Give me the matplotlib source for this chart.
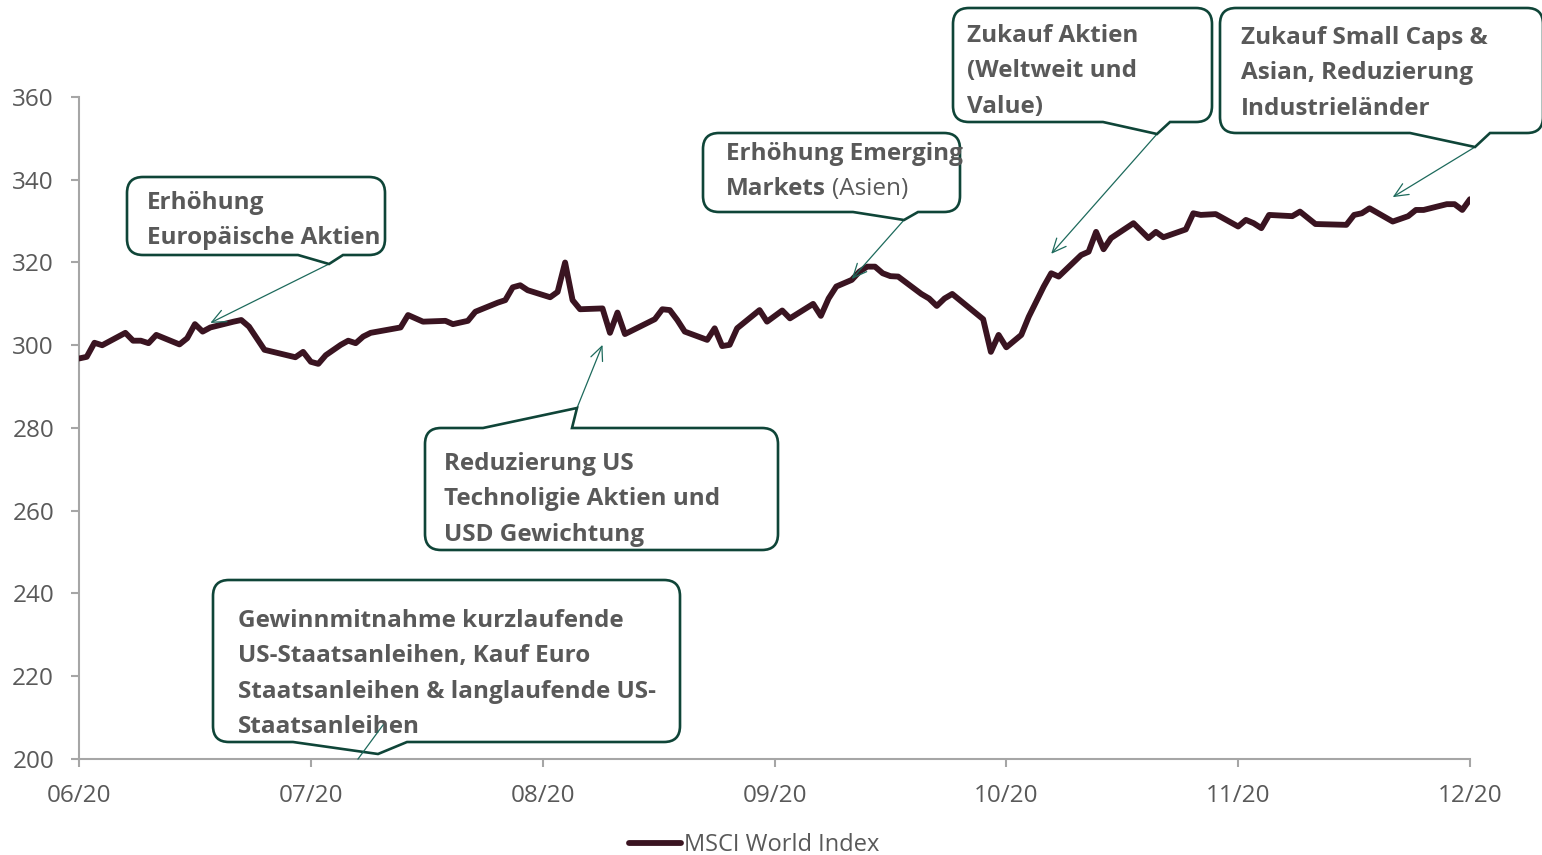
import matplotlib
matplotlib.use("Agg")
import matplotlib.pyplot as plt
from matplotlib.path import Path
from matplotlib.patches import PathPatch
from matplotlib.transforms import Affine2D
import calendar

# ---------------- data ----------------
dates = [
    "2020-06-01", "2020-06-02", "2020-06-03", "2020-06-04", "2020-06-07", "2020-06-08",
    "2020-06-09", "2020-06-10", "2020-06-11", "2020-06-14", "2020-06-15", "2020-06-16",
    "2020-06-17", "2020-06-18", "2020-06-21", "2020-06-22", "2020-06-23", "2020-06-24",
    "2020-06-25", "2020-06-27", "2020-06-29", "2020-06-30",
    "2020-07-01", "2020-07-02", "2020-07-03", "2020-07-05", "2020-07-06", "2020-07-07",
    "2020-07-08", "2020-07-09", "2020-07-13", "2020-07-14", "2020-07-16", "2020-07-19",
    "2020-07-20", "2020-07-22", "2020-07-23", "2020-07-26", "2020-07-27", "2020-07-28",
    "2020-07-29", "2020-07-30",
    "2020-08-02", "2020-08-03", "2020-08-04", "2020-08-05", "2020-08-06", "2020-08-09",
    "2020-08-10", "2020-08-11", "2020-08-12", "2020-08-16", "2020-08-17", "2020-08-18",
    "2020-08-19", "2020-08-20", "2020-08-23", "2020-08-24", "2020-08-25", "2020-08-26",
    "2020-08-27", "2020-08-30", "2020-08-31",
    "2020-09-02", "2020-09-03", "2020-09-06", "2020-09-07", "2020-09-08", "2020-09-09",
    "2020-09-11", "2020-09-12", "2020-09-13", "2020-09-14", "2020-09-15", "2020-09-16",
    "2020-09-17", "2020-09-20", "2020-09-21", "2020-09-22", "2020-09-23", "2020-09-24",
    "2020-09-28", "2020-09-29", "2020-09-30",
    "2020-10-01", "2020-10-03", "2020-10-04", "2020-10-06", "2020-10-07", "2020-10-08",
    "2020-10-11", "2020-10-12", "2020-10-13", "2020-10-14", "2020-10-15", "2020-10-18",
    "2020-10-20", "2020-10-21", "2020-10-22", "2020-10-25", "2020-10-26", "2020-10-27",
    "2020-10-29",
    "2020-11-01", "2020-11-02", "2020-11-03", "2020-11-04", "2020-11-05", "2020-11-08",
    "2020-11-09", "2020-11-11", "2020-11-15", "2020-11-16", "2020-11-17", "2020-11-18",
    "2020-11-21", "2020-11-23", "2020-11-24", "2020-11-25", "2020-11-28", "2020-11-29",
    "2020-11-30", "2020-12-01",
]
msci_world = [
    296.8, 297.2, 300.6, 300.0, 303.0, 301.1,
    301.1, 300.5, 302.5, 300.2, 301.7, 305.1,
    303.3, 304.3, 305.7, 306.1, 304.5, 301.7,
    298.9, 298.0, 297.1, 298.4,
    296.0, 295.5, 297.6, 300.1, 301.1, 300.5,
    302.1, 303.0, 304.3, 307.3, 305.7, 305.9,
    305.1, 305.9, 308.1, 310.3, 310.9, 314.0,
    314.5, 313.3,
    311.6, 312.9, 320.0, 310.9, 308.7, 308.9,
    303.0, 307.9, 302.7, 306.3, 308.7, 308.5,
    306.1, 303.3, 301.3, 304.1, 299.8, 300.1,
    304.1, 308.5, 305.7,
    308.4, 306.5, 310.0, 307.1, 311.3, 314.2,
    315.8, 317.8, 319.0, 319.0, 317.4, 316.7,
    316.6, 312.4, 311.3, 309.5, 311.3, 312.4,
    306.3, 298.4, 302.5,
    299.5, 302.5, 306.9, 314.2, 317.4, 316.6,
    321.8, 322.6, 327.4, 323.2, 325.9, 329.5,
    325.9, 327.4, 326.1, 328.0, 331.9, 331.5,
    331.7,
    328.7, 330.3, 329.5, 328.3, 331.5, 331.2,
    332.3, 329.3, 329.1, 331.5, 331.9, 333.1,
    329.9, 331.2, 332.7, 332.7, 334.1, 334.1,
    332.7, 335.3,
]
series_name = "MSCI World Index"
tick_labels = ["06/20", "07/20", "08/20", "09/20", "10/20", "11/20", "12/20"]
y_ticks = [200, 220, 240, 260, 280, 300, 320, 340, 360]

# annotation texts and targets (date, index level)
annot_texts = [
    ["Erhöhung", "Europäische Aktien"],
    ["Reduzierung US", "Technoligie Aktien und", "USD Gewichtung"],
    ["Erhöhung Emerging", "Markets"],
    ["Zukauf Aktien", "(Weltweit und", "Value)"],
    ["Zukauf Small Caps &", "Asian, Reduzierung", "Industrieländer"],
    ["Gewinnmitnahme kurzlaufende", "US-Staatsanleihen, Kauf Euro",
     "Staatsanleihen & langlaufende US-", "Staatsanleihen"],
]
annot_suffix = "(Asien)"
annot_dates = ["2020-06-18", "2020-08-09", "2020-09-11", "2020-10-07", "2020-11-21", None]
annot_levels = [305.4, 300.1, 316.0, 322.1, 335.8, None]


def month_pos(d):
    y, m, day = (int(p) for p in d.split("-"))
    ndays = calendar.monthrange(y, m)[1]
    return (m - 6) + (day - 1) / ndays


xs = [month_pos(d) for d in dates]

# ---------------- figure ----------------
W, H = 1542, 855
fig = plt.figure(figsize=(W / 100, H / 100), dpi=100)
ax = fig.add_axes([79 / W, (H - 759) / H, (1470 - 79) / W, (759 - 97) / H])

LINE_C = "#3a1421"
GRAY = "#595959"
AXC = "#a6a6a6"
BOX_EC = "#0f4538"
ARR_C = "#1d6a5c"
FONT = "Open Sans"

ax.plot(xs, msci_world, color=LINE_C, lw=4.2, solid_joinstyle="round",
        solid_capstyle="round", label=series_name, zorder=3)

ax.set_xlim(0, 6)
ax.set_ylim(200, 360)
ax.set_xticks(range(len(tick_labels)))
ax.set_xticklabels(tick_labels)
ax.set_yticks(y_ticks)
for s in ("top", "right"):
    ax.spines[s].set_visible(False)
for s in ("left", "bottom"):
    ax.spines[s].set_color(AXC)
    ax.spines[s].set_linewidth(1.5)
ax.tick_params(axis="both", direction="out", length=6, width=1.5, color=AXC,
               labelcolor=GRAY, labelsize=17.5)
ax.tick_params(axis="y", pad=12)
ax.tick_params(axis="x", pad=12)
for lab in ax.get_xticklabels() + ax.get_yticklabels():
    lab.set_family(FONT)

leg = fig.legend(handles=ax.get_lines(), loc="center",
                 bbox_to_anchor=(754 / W, 10 / H), frameon=False,
                 handlelength=2.2, handletextpad=0.15, borderpad=0,
                 prop={"family": FONT, "size": 17})
for t in leg.get_texts():
    t.set_color(GRAY)

# pixel transform (origin top-left, y downwards)
PX = Affine2D().scale(1 / W, -1 / H).translate(0, 1) + fig.transFigure


def callout(x0, y0, x1, y1, tail, r=16):
    side, ta, tip, tb = tail
    verts, codes = [], []

    def mv(p):
        verts.append(p); codes.append(Path.MOVETO)

    def ln(p):
        verts.append(p); codes.append(Path.LINETO)

    def cv(c, p):
        verts.extend([c, p]); codes.extend([Path.CURVE3, Path.CURVE3])

    mv((x0 + r, y0))
    if side == "top":
        ln((ta, y0)); ln(tip); ln((tb, y0))
    ln((x1 - r, y0)); cv((x1, y0), (x1, y0 + r))
    ln((x1, y1 - r)); cv((x1, y1), (x1 - r, y1))
    if side == "bottom":
        ln((tb, y1)); ln(tip); ln((ta, y1))
    ln((x0 + r, y1)); cv((x0, y1), (x0, y1 - r))
    ln((x0, y0 + r)); cv((x0, y0), (x0 + r, y0))
    codes.append(Path.CLOSEPOLY); verts.append((x0 + r, y0))
    p = PathPatch(Path(verts, codes), transform=PX, facecolor="white",
                  edgecolor=BOX_EC, lw=1.9, zorder=5, joinstyle="miter")
    fig.add_artist(p)


boxes = [
    (127, 177, 385, 255, ("bottom", 298, (329, 264), 343)),
    (425, 428, 778, 550, ("top", 483, (577, 408), 572)),
    (703, 133, 960, 212, ("bottom", 853, (904, 220), 918)),
    (953, 8, 1212, 122, ("bottom", 1103, (1157, 134), 1170)),
    (1220, 8, 1543, 133, ("bottom", 1410, (1475, 147), 1490)),
    (213, 580, 680, 742, ("bottom", 293, (378, 754), 407)),
]
text_origin = [(147, 209), (444, 470), (726, 160), (967, 42), (1241, 44), (238, 627)]
line_step = 35.3

for i, (x0, y0, x1, y1, tail) in enumerate(boxes):
    callout(x0, y0, x1, y1, tail)
    tx, ty = text_origin[i]
    for k, line in enumerate(annot_texts[i]):
        fig.text(tx, ty + k * line_step, line, transform=PX, fontsize=17.5,
                 fontweight="bold", family=FONT, color=GRAY, va="baseline",
                 ha="left", zorder=6)
    if annot_dates[i] is not None:
        ax.annotate("", xy=(month_pos(annot_dates[i]), annot_levels[i]),
                    xycoords="data", xytext=tail[2], textcoords=PX,
                    arrowprops=dict(arrowstyle="->,head_length=1.0,head_width=0.45",
                                    color=ARR_C, lw=0.9, shrinkA=0, shrinkB=0),
                    zorder=7, annotation_clip=False)

# regular-weight suffix "(Asien)" after bold "Markets"
renderer = fig.canvas.get_renderer()
mk = [t for t in fig.texts if t.get_text() == "Markets"][0]
bb = mk.get_window_extent(renderer)
fig.text(bb.x1 + 6, text_origin[2][1] + line_step, annot_suffix, transform=PX,
         fontsize=17.5, family=FONT, color=GRAY, va="baseline", ha="left", zorder=6)

# thin connector of last callout
fig.add_artist(plt.Line2D([383, 358], [725, 759], transform=PX, color=ARR_C,
                          lw=0.9, zorder=7))

fig.savefig("out.png", dpi=100)
